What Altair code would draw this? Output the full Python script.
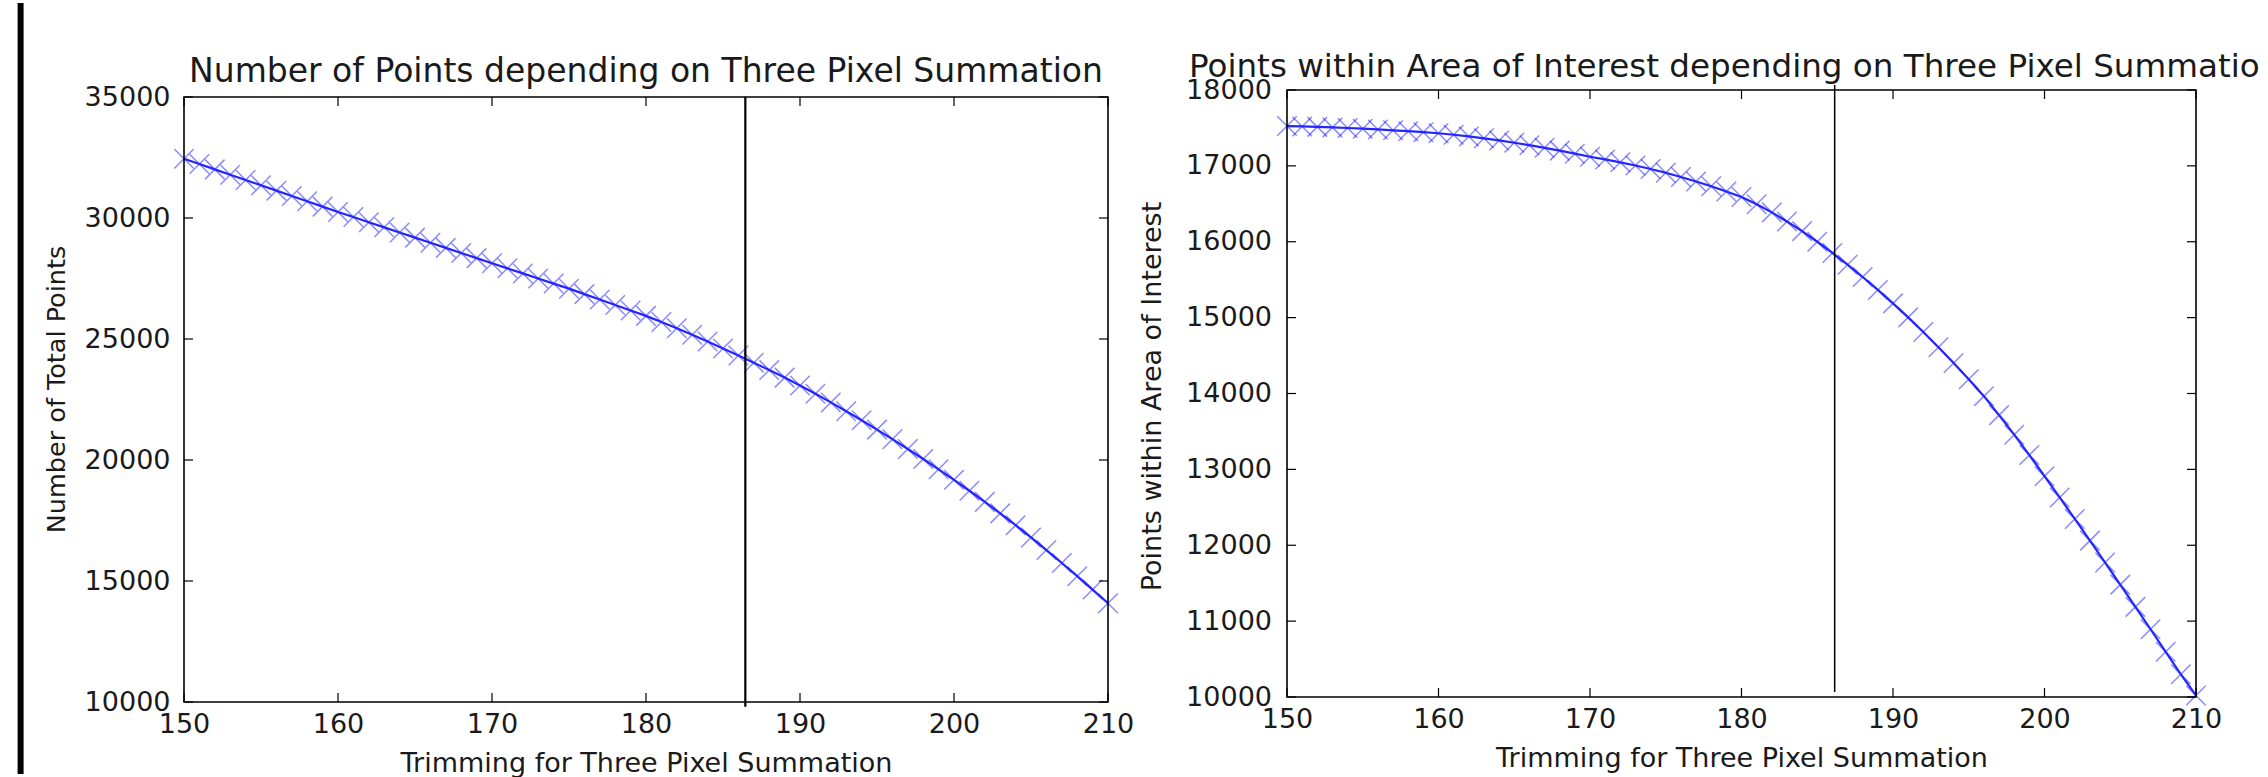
import altair as alt
import pandas as pd

# ---------------- data ----------------
trim = list(range(150, 211))

total_points = [
    32450, 32230, 32010, 31790, 31570, 31350, 31130, 30910, 30690, 30470,
    30250, 30038, 29826, 29614, 29402, 29190, 28978, 28766, 28554, 28342,
    28130, 27920, 27710, 27500, 27290, 27080, 26855, 26630, 26405, 26180,
    25955, 25705, 25445, 25175, 24895, 24610, 24320, 24020, 23715, 23405,
    23080, 22735, 22380, 22015, 21640, 21255, 20860, 20455, 20040, 19615,
    19180, 18730, 18270, 17795, 17305, 16800, 16280, 15745, 15200, 14645,
    14080,
]

aoi_points = [
    17525, 17520, 17514, 17507, 17499, 17490, 17480, 17469, 17457, 17444,
    17430, 17410, 17388, 17363, 17335, 17305, 17273, 17238, 17201, 17161,
    17120, 17085, 17047, 17005, 16959, 16909, 16854, 16794, 16731, 16663,
    16590, 16495, 16387, 16267, 16140, 16000, 15852, 15697, 15535, 15365,
    15188, 15003, 14810, 14610, 14402, 14187, 13965, 13715, 13457, 13189,
    12910, 12630, 12347, 12061, 11772, 11481, 11188, 10893, 10596, 10299,
    10020,
]

x_range = [150, 210]
x_ticks = [150, 160, 170, 180, 190, 200, 210]
left_y_range = [10000, 35000]
left_y_ticks = [10000, 15000, 20000, 25000, 30000, 35000]
right_y_range = [10000, 18000]
right_y_ticks = [10000, 11000, 12000, 13000, 14000, 15000, 16000, 17000, 18000]

left_vline_x = [186.45]
left_vline_y = [9800, 35000]
right_vline_x = [186.15]
right_vline_y = [10066, 18066]

left_title = "Number of Points depending on Three Pixel Summation"
right_title = "Points within Area of Interest depending on Three Pixel Summation"
x_title = "Trimming for Three Pixel Summation"
left_y_title = "Number of Total Points"
right_y_title = "Points within Area of Interest"

# ---------------- styling ----------------
FONT = "DejaVu Sans"
TXT = "#1a1a1a"
LINE_C = "#2424ff"
MARK_C = "#0000ff"
XPATH = "M -1 -1 L 1 1 M -1 1 L 1 -1"
TICK = 9


def panel(values, yrange, ydom, yticks, vx, vy, w, h, top, title_layer,
          ytitle, ytitle_x, ytitle_y, ytitle_size, ylab_pad, vline_w,
          extra=None):
    """top = pixel offset of the plotted box inside the view (for alignment)."""
    df = pd.DataFrame({"trim": trim, "val": values})
    xs = alt.Scale(domain=x_range, nice=False, zero=False)
    ys = alt.Scale(domain=ydom, nice=False, zero=False)
    xax = alt.Axis(values=x_ticks, format="d", title=x_title, grid=False,
                   domain=False, ticks=False, tickSize=0, labelPadding=9.5,
                   labelFlush=False, labelOverlap=False,
                   labelFont=FONT, labelFontSize=27, labelColor=TXT,
                   titleFont=FONT, titleFontSize=27, titleFontWeight="normal",
                   titleColor=TXT, titleBaseline="alphabetic", titleY=69.5)
    yax = alt.Axis(values=yticks, format="d", title=ytitle, grid=False,
                   domain=False, ticks=False, tickSize=0, labelPadding=ylab_pad,
                   labelFlush=False, labelOverlap=False,
                   labelFont=FONT, labelFontSize=27, labelColor=TXT,
                   titleFont=FONT, titleFontSize=ytitle_size,
                   titleFontWeight="normal", titleColor=TXT,
                   titleAngle=270, titleBaseline="alphabetic",
                   titleAlign="center", titleX=ytitle_x, titleY=ytitle_y)
    X = alt.X("trim:Q", scale=xs, axis=xax)
    Y = alt.Y("val:Q", scale=ys, axis=yax)

    base = alt.Chart(df)
    markers = base.mark_point(shape=XPATH, size=380, filled=False,
                              color=MARK_C, opacity=0.45,
                              strokeWidth=1.5).encode(x=X, y=Y)
    line = base.mark_line(color=LINE_C, strokeWidth=2.2).encode(x=X, y=Y)

    vdf = pd.DataFrame({"trim": vx, "val": [vy[0]], "val2": [vy[1]]})
    vline = alt.Chart(vdf).mark_rule(color="black", strokeWidth=vline_w).encode(
        x=X, y=Y, y2="val2:Q")

    fdf = pd.DataFrame({"trim": [x_range[0]], "trim2": [x_range[1]],
                        "val": [yrange[0]], "val2": [yrange[1]]})
    frame = alt.Chart(fdf).mark_rect(filled=False, stroke="black",
                                     strokeWidth=1.6).encode(
        x=X, x2="trim2:Q", y=Y, y2="val2:Q")

    xt = alt.Chart(pd.DataFrame({"trim": x_ticks}))
    yt = alt.Chart(pd.DataFrame({"val": yticks}))
    tk = dict(color="black", strokeWidth=1.2)
    bottom_t = xt.mark_rule(**tk).encode(x=X, y=alt.value(h), y2=alt.value(h - TICK))
    top_t = xt.mark_rule(**tk).encode(x=X, y=alt.value(top), y2=alt.value(top + TICK))
    left_t = yt.mark_rule(**tk).encode(y=Y, x=alt.value(0), x2=alt.value(TICK))
    right_t = yt.mark_rule(**tk).encode(y=Y, x=alt.value(w), x2=alt.value(w - TICK))

    layers = [markers, line, vline, frame, bottom_t, top_t, left_t, right_t,
              title_layer]
    if extra is not None:
        layers.append(extra)
    return alt.layer(*layers).properties(width=w, height=h)


one = pd.DataFrame({"a": [0]})

# panel titles as text marks
left_ttl = alt.Chart(pd.DataFrame({"t": [left_title]})).mark_text(
    font=FONT, fontSize=33, color=TXT, align="center", baseline="alphabetic"
).encode(text="t:N", x=alt.value(924 / 2), y=alt.value(-8.3))
# the right title runs off the picture edge in the reference: clip it there
right_ttl = alt.Chart(pd.DataFrame({"t": [right_title]})).mark_text(
    font=FONT, fontSize=32.6, color=TXT, align="left", baseline="alphabetic",
    limit=1081, ellipsis="\u200b"
).encode(text="t:N", x=alt.value(-98), y=alt.value(-13.3))

# black screenshot border on the far left
border = alt.Chart(one).mark_rule(color="black", strokeWidth=6).encode(
    x=alt.value(-163.4), y=alt.value(-87), y2=alt.value(684))

# left box sits 7 px lower than the right one: extend its view upward by 7 px
LEFT_TOP = 7
left_dom = [10000, 35000 + LEFT_TOP * 25000 / 605]

left = panel(total_points, left_y_range, left_dom, left_y_ticks, left_vline_x,
             left_vline_y, 924, 605 + LEFT_TOP, LEFT_TOP, left_ttl,
             left_y_title, -120, 299, 25.5, 14, 2.2, extra=border)
right = panel(aoi_points, right_y_range, right_y_range, right_y_ticks,
              right_vline_x, right_vline_y, 909, 607, 0, right_ttl,
              right_y_title, -127, 306, 27, 15.5, 1.5)

chart = alt.hconcat(left, right, spacing=4).properties(
    padding={"left": 17, "top": 0, "right": 0, "bottom": 0},
    background="white",
).configure_view(strokeWidth=0)

chart.save("out.html", embed_options={"renderer": "svg", "actions": False})
